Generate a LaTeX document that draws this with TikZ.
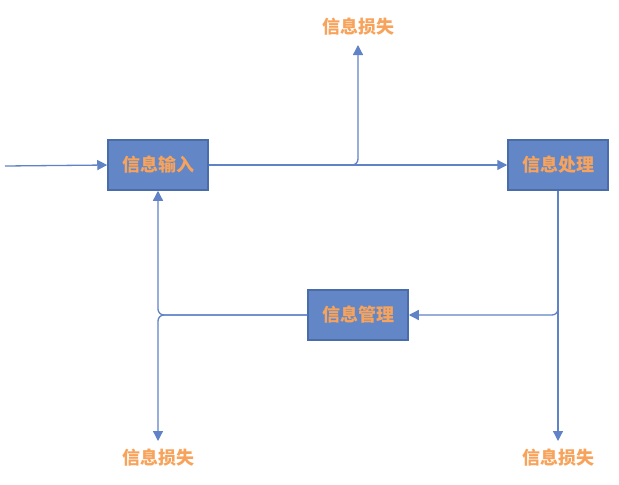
\documentclass[tikz,border=0pt]{standalone}
\usepackage{fontspec}
\newfontfamily\cjk{Noto Sans CJK SC}
\usetikzlibrary{arrows.meta}
\definecolor{boxfill}{HTML}{6286C6}
\definecolor{boxline}{HTML}{4A6CA8}
\definecolor{lineblue}{HTML}{5F83C6}
\definecolor{txtorange}{HTML}{F7A35C}
\tikzset{
  procbox/.style={draw=boxline, line width=1.5pt, fill=boxfill, minimum width=100pt, minimum height=50pt, inner sep=0pt, font=\cjk\bfseries\fontsize{18}{21}\selectfont, text=txtorange},
  lbl/.style={font=\cjk\bfseries\fontsize{18}{21}\selectfont, text=txtorange, inner sep=0pt},
  conn/.style={draw=lineblue, line width=1.3pt, -{Triangle[length=10pt,width=10pt]}},
  connr/.style={conn, rounded corners=6pt},
}
\begin{document}
\begin{tikzpicture}[x=1pt,y=-1pt]
\useasboundingbox (0,0) rectangle (619,485);
\node[procbox] (in) at (158,165) {信息输入};
\node[procbox] (proc) at (558,165) {信息处理};
\node[procbox] (mgmt) at (358,315) {信息管理};
\node[lbl] (lt) at (358,27) {信息损失};
\node[lbl] (lbl1) at (158,458) {信息损失};
\node[lbl] (lbr) at (558,458) {信息损失};
\coordinate (start) at (5,166);
\coordinate (tt) at (358,45);
\coordinate (bl) at (158,441);
\coordinate (br) at (558,441);
\draw[conn] (start) -- (in.west);
\draw[conn] (in.east) -- (proc.west);
\draw[connr] (in.east) -| (tt);
\draw[connr] (proc.south) |- (mgmt.east);
\draw[conn] (proc.south) -- (br);
\draw[connr] (mgmt.west) -| (in.south);
\draw[connr] (mgmt.west) -| (bl);
\end{tikzpicture}
\end{document}
